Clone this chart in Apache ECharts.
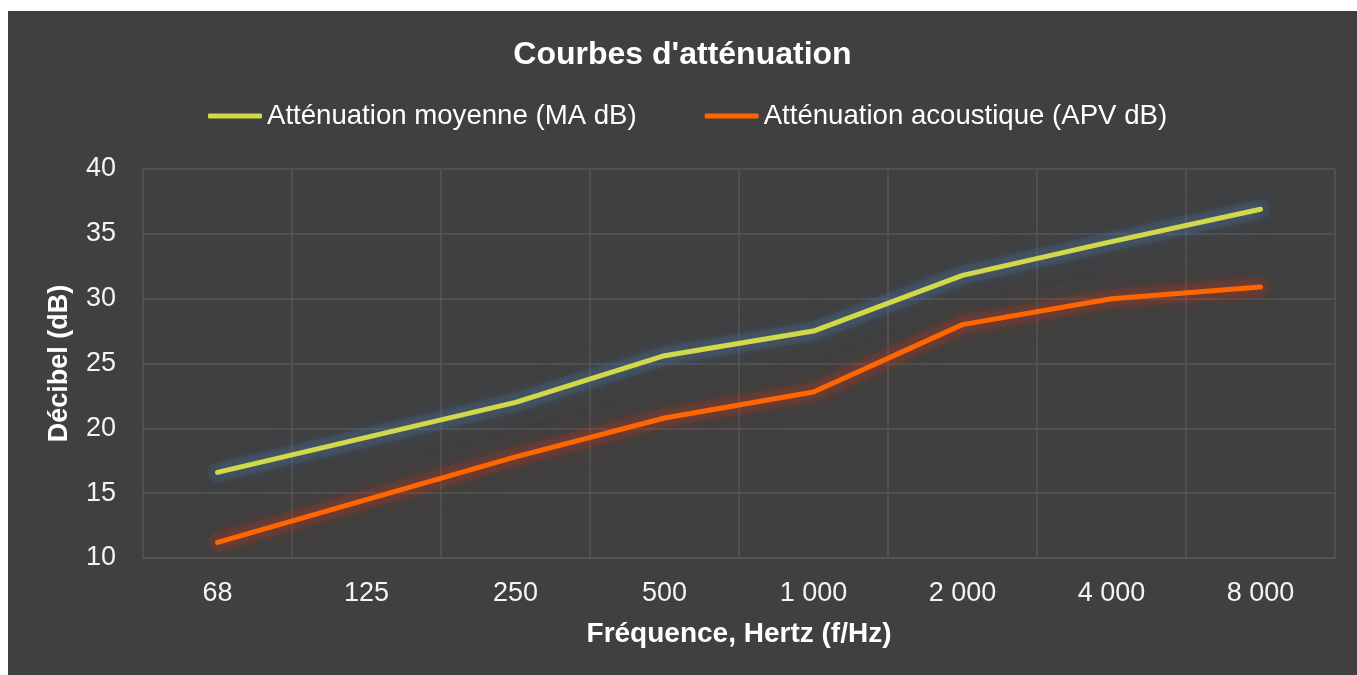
<!DOCTYPE html>
<html>
<head>
<meta charset="utf-8">
<script src="https://cdn.jsdelivr.net/npm/echarts@6/dist/echarts.min.js"></script>
<style>
  html, body { margin: 0; padding: 0; background: #ffffff; width: 1357px; height: 675px; overflow: hidden; }
  #chart { position: absolute; left: 8px; top: 11px; width: 1349px; height: 664px; }
</style>
</head>
<body>
<div id="chart"></div>
<script>
const titleText = "Courbes d'atténuation";
const categories = ['68', '125', '250', '500', '1 000', '2 000', '4 000', '8 000'];
const seriesNames = ['Atténuation moyenne (MA dB)', 'Atténuation acoustique (APV dB)'];
const maValues = [16.6, 19.3, 22.0, 25.6, 27.5, 31.8, 34.4, 36.9];
const apvValues = [11.2, 14.5, 17.8, 20.8, 22.8, 28.0, 30.0, 30.9];
const xAxisName = 'Fréquence, Hertz (f/Hz)';
const yAxisName = 'Décibel (dB)';

const FONT = '"Liberation Sans", Arial, sans-serif';
const chart = echarts.init(document.getElementById('chart'), null, { renderer: 'canvas' });

function glow(values, color, shadow) {
  return {
    name: 'glow',
    type: 'line',
    data: values,
    symbol: 'none',
    showSymbol: false,
    silent: true,
    lineStyle: { width: 20, color: color, cap: 'round', join: 'round', shadowColor: shadow, shadowBlur: 24 },
    z: 2
  };
}

chart.setOption({
  backgroundColor: '#404040',
  animation: false,
  textStyle: { fontFamily: FONT },
  title: {
    text: titleText,
    left: 'center',
    top: 23,
    textStyle: { color: '#ffffff', fontFamily: FONT, fontWeight: 'bold', fontSize: 32 }
  },
  legend: {
    left: 195,
    top: 86,
    icon: 'roundRect',
    itemWidth: 54,
    itemHeight: 5,
    itemGap: 68,
    textStyle: { color: '#ffffff', fontFamily: FONT, fontSize: 27.6 },
    data: seriesNames
  },
  grid: { left: 135, right: 22, top: 158, bottom: 117, containLabel: false },
  xAxis: {
    type: 'category',
    data: categories,
    boundaryGap: true,
    name: xAxisName,
    nameLocation: 'middle',
    nameGap: 62,
    nameTextStyle: { color: '#ffffff', fontFamily: FONT, fontWeight: 'bold', fontSize: 28 },
    axisLine: { show: true, lineStyle: { color: '#565656', width: 1.5 } },
    axisTick: { show: false },
    axisLabel: { color: '#f4f4f4', fontFamily: FONT, fontSize: 27, margin: 22 },
    splitLine: { show: true, lineStyle: { color: '#565656', width: 1.5 } }
  },
  yAxis: {
    type: 'value',
    min: 10,
    max: 40,
    interval: 5,
    name: yAxisName,
    nameLocation: 'middle',
    nameGap: 70,
    nameTextStyle: { color: '#ffffff', fontFamily: FONT, fontWeight: 'bold', fontSize: 27 },
    axisLine: { show: false },
    axisTick: { show: false },
    axisLabel: { color: '#f4f4f4', fontFamily: FONT, fontSize: 27, margin: 27 },
    splitLine: { show: true, lineStyle: { color: '#565656', width: 1.5 } }
  },
  series: [
    glow(maValues, 'rgba(70,115,170,0.15)', 'rgba(70,115,170,0.6)'),
    glow(apvValues, 'rgba(195,55,30,0.14)', 'rgba(195,55,30,0.55)'),
    {
      name: seriesNames[0],
      type: 'line',
      data: maValues,
      symbol: 'none',
      showSymbol: false,
      color: '#d2d84a',
      lineStyle: {
        width: 5, color: '#d2d84a', cap: 'round', join: 'round',
        shadowColor: 'rgba(85,135,195,0.6)', shadowBlur: 12
      },
      z: 3
    },
    {
      name: seriesNames[1],
      type: 'line',
      data: apvValues,
      symbol: 'none',
      showSymbol: false,
      color: '#ff6600',
      lineStyle: {
        width: 5, color: '#ff6600', cap: 'round', join: 'round',
        shadowColor: 'rgba(215,50,25,0.55)', shadowBlur: 12
      },
      z: 3
    }
  ]
});
</script>
</body>
</html>
